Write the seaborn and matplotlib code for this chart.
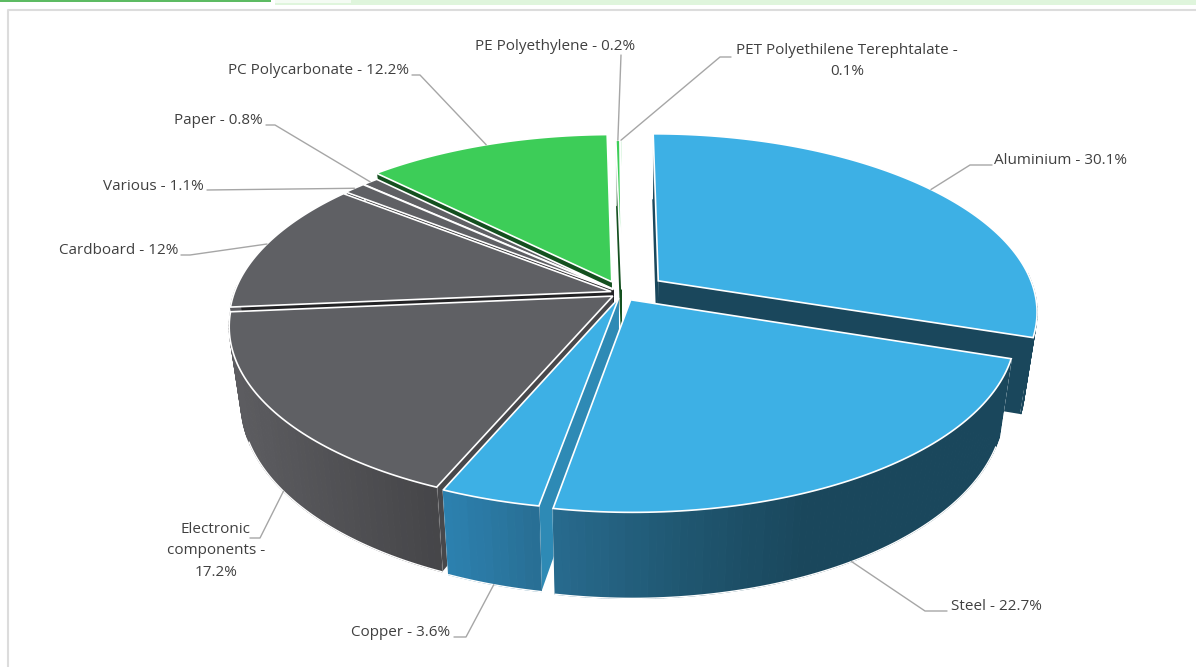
"""
Exploded 3D pie of material shares, drawn with a small perspective projection
"""
import numpy as np
import seaborn as sns
from matplotlib import pyplot as plt
from matplotlib.patches import Polygon

materials = ['Aluminium', 'Steel', 'Copper', 'Electronic components', 'Cardboard',
             'Various', 'Paper', 'PC Polycarbonate', 'PE Polyethylene', 'PET Polyethilene Terephtalate']
shares = [30.1, 22.7, 3.6, 17.2, 12, 1.1, 0.8, 12.2, 0.2, 0.1]
groups = ['blue', 'blue', 'blue', 'grey', 'grey', 'grey', 'grey', 'green', 'green', 'green']
labels = ['Aluminium - 30.1%', 'Steel - 22.7%', 'Copper - 3.6%', 'Electronic\ncomponents -\n17.2%',
          'Cardboard - 12%', 'Various - 1.1%', 'Paper - 0.8%', 'PC Polycarbonate - 12.2%',
          'PE Polyethylene - 0.2%', 'PET Polyethilene Terephtalate -\n0.1%']

# slice offsets and label layout, in the order of the materials above
explode = [0.12, 0.045, 0.03, 0.03, 0.03, 0.03, 0.03, 0.07, 0.02, 0.02]
label_pos = [(994, 161, 'left'), (951, 607, 'left'), (450, 633, 'right'), (216, 551, 'center'),
             (178, 251, 'right'), (204, 187, 'right'), (263, 121, 'right'), (409, 71, 'right'),
             (555, 47, 'center'), (847, 61, 'center')]
elbows = [[(992, 165), (970, 165)], [(947, 611), (925, 611)], [(454, 637), (466, 637)],
          [(250, 538), (260, 538)], [(181, 255), (190, 255)], [(207, 190)],
          [(266, 125), (275, 125)], [(412, 75), (420, 75)], [(621, 55)], [(731, 57), (720, 57)]]
# back slices first, so nearer ones cover the side walls they hide
draw_order = [9, 8, 7, 6, 5, 4, 0, 3, 2, 1]

CX, CY, RX, RY, K, DEPTH = 622, 293, 377, 175, 0.165, 74

sns.set_theme(style='white')
plt.rcParams['font.family'] = ['Open Sans', 'DejaVu Sans']

top_colors = {'blue': '#3db0e5', 'grey': '#5f6064', 'green': '#3dcd58'}
radial_colors = ['#1a475c', '#1a475c', '#2e8ab5', '#48484b', '#232325', '#232325', '#232325',
                 '#14501f', '#14501f', '#14501f']
shades = {
    'blue': (sns.blend_palette(['#2c80ae', '#27688a', '#1f5670', '#1a475c'], 64), 450, 800),
    'grey': (sns.blend_palette(['#5c5c60', '#454548'], 64), 240, 440),
    'green': (sns.blend_palette(['#14501f', '#14501f'], 2), 0, 1196),
}


def project(u, v, bottom=False):
    s = 1 / (1 - K * np.asarray(v))
    x = CX + RX * np.asarray(u) * s
    y = CY + RY * np.asarray(v) * s
    if bottom:
        x = CX + (x - CX) * 0.97
        y = y + DEPTH * s ** 0.8
    return np.column_stack([x, y])


def rim(a, off, r=1.0):
    # angle a is clockwise from 12 o'clock, v grows towards the viewer
    return off[0] + r * np.sin(a), off[1] - r * np.cos(a)


def shade(group, x):
    pal, x0, x1 = shades[group]
    i = int(np.clip((x - x0) / (x1 - x0), 0, 1) * (len(pal) - 1))
    return pal[i]


fig = plt.figure(figsize=(11.96, 6.67), dpi=100)
ax = fig.add_axes([0, 0, 1, 1])
ax.set_xlim(0, 1196)
ax.set_ylim(667, 0)
ax.axis('off')

# page furniture around the chart
ax.fill_between([0, 271], 0, 2, color='#5dbb63', lw=0)
ax.fill_between([275, 1196], 0, 5, color='#dff5dc', lw=0)
ax.fill_between([275, 351], 0, 2.5, color='#f4fbf3', lw=0)
ax.plot([8, 8, 1196], [667, 10, 10], color='#dcdcdc', lw=1.5)

ends = np.cumsum(shares) / np.sum(shares) * 2 * np.pi
starts = np.r_[0, ends[:-1]]
mids = (starts + ends) / 2
offsets = [(e * np.sin(m), -e * np.cos(m)) for e, m in zip(explode, mids)]

for rank, i in enumerate(draw_order):
    z = 2 + rank * 0.01
    a0, a1, off, group = starts[i], ends[i], offsets[i], groups[i]
    n = max(int(np.degrees(a1 - a0)), 2)
    angles = np.linspace(a0, a1, n + 1)
    u, v = rim(angles, off)
    top_arc = project(u, v)
    bot_arc = project(u, v, bottom=True)
    apex_t = project([off[0]], [off[1]])
    apex_b = project([off[0]], [off[1]], bottom=True)

    # radial side walls, with a white line down the outer corner
    for k in (0, -1):
        wall = np.vstack([apex_t, top_arc[k], bot_arc[k], apex_b])
        ax.add_patch(Polygon(wall, fc=radial_colors[i], ec='none', zorder=z))
        ax.plot([top_arc[k, 0], bot_arc[k, 0]], [top_arc[k, 1], bot_arc[k, 1]],
                color='white', lw=1.0, zorder=z)

    # outer wall, as narrow strips to get the horizontal shading; front half only
    front = np.cos(angles) < 0.05
    for k in range(n):
        if not (front[k] and front[k + 1]):
            continue
        strip = np.vstack([top_arc[k], top_arc[k + 1], bot_arc[k + 1], bot_arc[k]])
        col = shade(group, strip[:, 0].mean())
        ax.add_patch(Polygon(strip, fc=col, ec=col, lw=0.8, zorder=z))
    seen = np.cos(angles) < -0.35
    if seen.any():
        ax.plot(bot_arc[seen, 0], bot_arc[seen, 1], color='white', lw=1.0, zorder=z)

    face = np.vstack([apex_t, top_arc])
    ax.add_patch(Polygon(face, fc=top_colors[group], ec='white', lw=1.2, zorder=z))

# labels and leader lines; front slices take the line on the bottom rim
for i, text in enumerate(labels):
    x, y, ha = label_pos[i]
    ax.text(x, y, text, ha=ha, va='center', fontsize=11, color='#404040',
            linespacing=1.58, zorder=5)
    u, v = rim(mids[i], offsets[i])
    end = project([u], [v], bottom=bool(np.cos(mids[i]) < -0.4))[0]
    path = np.array(elbows[i] + [tuple(end)])
    ax.plot(path[:, 0], path[:, 1], color='#a6a6a6', lw=1.0, zorder=4)

fig.savefig('out.png', dpi=100)
